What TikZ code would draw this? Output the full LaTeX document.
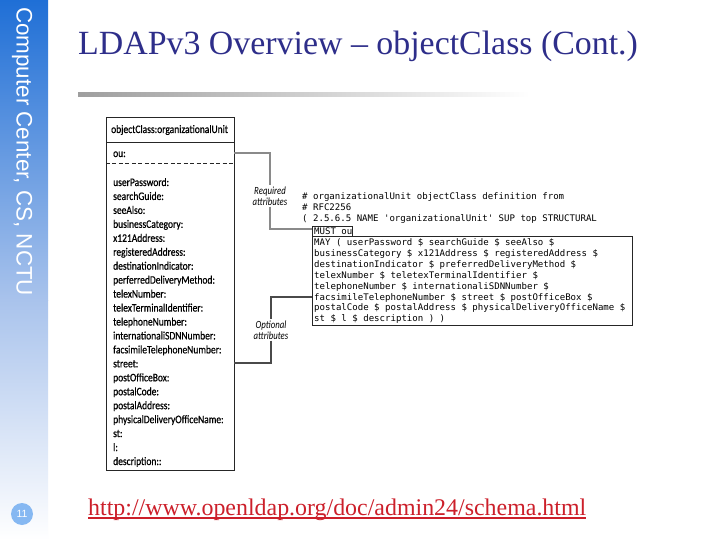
\documentclass[tikz,border=0pt]{standalone}
\usepackage{fontspec}
\setmainfont{Liberation Serif}
\newfontfamily\sidefont{Liberation Sans}
\newfontfamily\condfont[FakeStretch=0.83,FakeBold=0.6]{Carlito}
\newfontfamily\lblfont[FakeStretch=0.8]{Carlito}
\newfontfamily\codefont{DejaVu Sans Mono}
\definecolor{titleblue}{HTML}{2E2E8A}
\definecolor{sidetop}{HTML}{1F6FD6}
\definecolor{sidemid}{HTML}{A9C3EC}
\definecolor{pagecirc}{HTML}{86B8F2}
\definecolor{urlred}{HTML}{CC1F2A}
\definecolor{connA}{HTML}{8A8A8A}
\definecolor{connB}{HTML}{4A4A4A}
\tikzset{
  attr/.style={anchor=base west,inner sep=0pt,font=\condfont\fontsize{11.5}{12}\selectfont},
  codeline/.style={anchor=base west,inner sep=0pt,font=\codefont\fontsize{9.1}{10}\selectfont},
  lbl/.style={inner sep=1pt,align=center,font=\lblfont\itshape\fontsize{11}{11}\selectfont},
  boxline/.style={draw=black!85,line width=0.9pt},
}
\begin{document}
\begin{tikzpicture}[x=1bp,y=-1bp]
\useasboundingbox (0,0) rectangle (720,540);
\fill[white] (0,0) rectangle (720,540);
% sidebar
\shade[top color=sidetop,bottom color=sidemid] (0,0) rectangle (48,300);
\shade[top color=sidemid,bottom color=white] (0,300) rectangle (48,540);
\node[rotate=-90,anchor=west,inner sep=0pt,text=white,font=\sidefont\fontsize{22.5}{22.5}\selectfont] (side) at (22,7) {Computer Center, CS, NCTU};
\node[circle,fill=pagecirc,minimum size=22bp,inner sep=0pt,text=white,font=\sidefont\fontsize{10.5}{10.5}\selectfont] (pg) at (22,514) {11};
% title
\node[anchor=base west,inner sep=0pt,text=titleblue,font=\fontsize{34}{34}\selectfont] (title) at (78,55) {LDAPv3 Overview -- objectClass (Cont.)};
\shade[left color=black!38,right color=white] (78,93) rectangle (530,97);
% left box
\draw[boxline] (106,117) rectangle (234,470);
\draw[boxline] (106,142) -- (234,142);
\draw[black!85,line width=0.9pt,dash pattern=on 4pt off 2.5pt] (106,163) -- (234,163);
\node[attr] (hdr) at (111,133) {objectClass:organizationalUnit};
\node[attr] (ou) at (113,157) {ou:};
\foreach \t [count=\i from 0] in {userPassword:,searchGuide:,seeAlso:,businessCategory:,x121Address:,registeredAddress:,destinationIndicator:,perferredDeliveryMethod:,telexNumber:,telexTerminalIdentifier:,telephoneNumber:,internationaliSDNNumber:,facsimileTelephoneNumber:,street:,postOfficeBox:,postalCode:,postalAddress:,physicalDeliveryOfficeName:,st:,l:,description::}
  \node[attr] (a\i) at (113,186+13.95*\i) {\t};
% code
\node[codeline] (c1) at (302,200) {\# organizationalUnit objectClass definition from};
\node[codeline] (c2) at (302,211) {\# RFC2256};
\node[codeline] (c3) at (302,222) {( 2.5.6.5 NAME 'organizationalUnit' SUP top STRUCTURAL};
\draw[boxline] (312,226) rectangle (352,236);
\node[codeline] (must) at (314,234.5) {MUST ou};
\draw[boxline] (312,236) rectangle (632,325);
\foreach \t [count=\i from 0] in {MAY ( userPassword \$ searchGuide \$ seeAlso \$,businessCategory \$ x121Address \$ registeredAddress \$,destinationIndicator \$ preferredDeliveryMethod \$,telexNumber \$ teletexTerminalIdentifier \$,telephoneNumber \$ internationaliSDNNumber \$,facsimileTelephoneNumber \$ street \$ postOfficeBox \$,postalCode \$ postalAddress \$ physicalDeliveryOfficeName \$,st \$ l \$ description ) )}
  \node[codeline] (m\i) at (314,245.5+10.9*\i) {\t};
% connectors
\coordinate (rq1) at (234,153);
\coordinate (rq2) at (312,229);
\node[lbl] (req) at (270,196) {Required\\attributes};
\draw[connA,line width=1.6pt] (rq1) -| (req.north);
\draw[connA,line width=1.6pt] (req.south) |- (rq2);
\coordinate (op1) at (312,297);
\coordinate (op2) at (234,363);
\node[lbl] (opt) at (271,330) {Optional\\attributes};
\draw[connB,line width=1.3pt] (op1) -| (opt.north);
\draw[connB,line width=1.3pt] (opt.south) |- (op2);
% url
\node[anchor=base west,inner sep=0pt,text=urlred,font=\fontsize{24}{24}\selectfont] (url) at (88,515) {http://www.openldap.org/doc/admin24/schema.html};
\draw[urlred,line width=1.3pt] (88,518) -- (url.base east |- 0,518);
\end{tikzpicture}
\end{document}
